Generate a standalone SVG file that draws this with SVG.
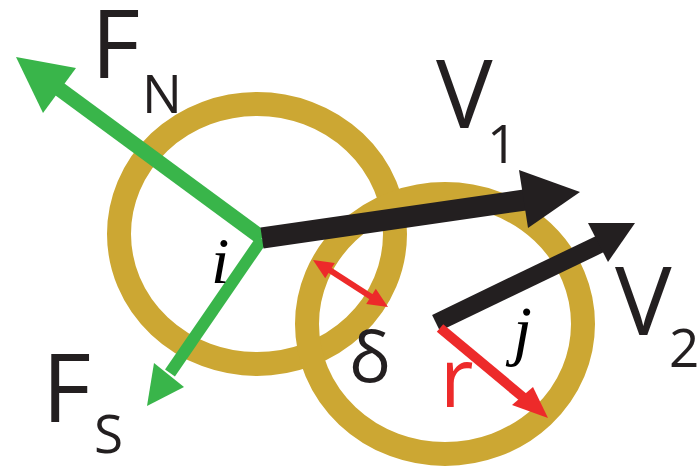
<svg xmlns="http://www.w3.org/2000/svg" width="698" height="468" viewBox="0 0 698 468">
<style>
.ring{fill:none;stroke:#CCA733;stroke-width:24}
.lbl{font-family:"Open Sans","Liberation Sans",sans-serif;fill:#231F20}
.it{font-family:"Liberation Serif",serif;font-style:italic;fill:#000}
.g{fill:#39B54A}
.gs{stroke:#39B54A;fill:none}
.k{fill:#231F20}
.ks{stroke:#231F20;fill:none}
.r{fill:#ED2A2A}
.rs{stroke:#ED2A2A;fill:none}
</style>
<rect width="698" height="468" fill="#fff"/>
<g id="particle-i">
<ellipse class="ring" cx="257" cy="234" rx="138" ry="130"/>
</g>
<g id="particle-j">
<ellipse class="ring" cx="445" cy="324" rx="138" ry="130"/>
</g>
<g id="connectors">
<line class="gs" x1="262" y1="238" x2="58" y2="88" stroke-width="15"/>
<polygon class="g" points="16,57 76,68 43,113"/>
<line class="gs" x1="262" y1="239" x2="170" y2="373" stroke-width="12"/>
<polygon class="g" points="147,406 154,363 184,387"/>
<line class="ks" x1="262" y1="238" x2="525" y2="200" stroke-width="21"/>
<polygon class="k" points="580,192 519,170 528,228"/>
<line class="ks" x1="436" y1="323" x2="600" y2="244" stroke-width="18"/>
<polygon class="k" points="635,223 588,223 608,262"/>
<line class="rs" x1="440" y1="328" x2="524" y2="398" stroke-width="10"/>
<polygon class="r" points="548,418 533,387 512,405"/>
<line class="rs" x1="328" y1="269" x2="373" y2="298" stroke-width="6"/>
<polygon class="r" points="313,260 325.2,278.2 334.8,263"/>
<polygon class="r" points="388,307 366.2,304 375.8,288.8"/>
</g>
<g id="labels">
<text class="lbl" x="91" y="78" font-size="95">F</text>
<text class="lbl" x="142" y="113" font-size="53">N</text>
<text class="lbl" x="436" y="128" font-size="95">V</text>
<text class="lbl" x="487" y="163" font-size="53">1</text>
<text class="lbl" x="42" y="422" font-size="95">F</text>
<text class="lbl" x="94" y="453" font-size="53">S</text>
<text class="lbl" x="615" y="335" font-size="95">V</text>
<text class="lbl" x="669" y="367" font-size="53">2</text>
<text class="lbl" x="349" y="382" font-size="70">δ</text>
<text class="lbl" x="440" y="407" font-size="82" style="fill:#ED2A2A">r</text>
<text class="it" x="211" y="283" font-size="66">i</text>
<text class="it" x="513" y="353" font-size="68">j</text>
</g>
</svg>
